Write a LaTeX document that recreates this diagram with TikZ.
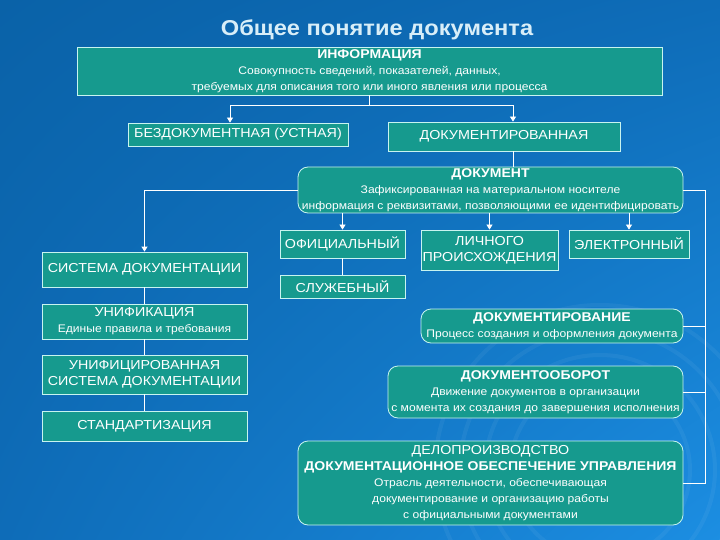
\documentclass[tikz,border=0pt]{standalone}
\usepackage{fontspec}
\setmainfont{Liberation Sans}[FakeStretch=1.1]
\usetikzlibrary{arrows.meta,shadings}

\definecolor{bgdark}{HTML}{0A62A8}
\definecolor{bgmid}{HTML}{0E6CB8}
\definecolor{bglight}{HTML}{1C8EE2}
\definecolor{boxfill}{HTML}{169A8E}
\definecolor{boxedge}{HTML}{C8F4F0}
\definecolor{titlecol}{HTML}{D8EEF8}

\newcommand\hdtxt{\fontsize{12.75}{16}\selectfont\bfseries}
\newcommand\smtxt{\fontsize{11}{14.5}\selectfont}

\tikzset{
  box/.style={draw=boxedge, fill=boxfill, text=white, line width=0.8pt,
    inner sep=0pt, align=center, font=\fontsize{13}{16}\selectfont},
  rbox/.style={box, rounded corners=10pt},
  link/.style={draw=white, line width=0.8pt},
  arr/.style={link, -{Triangle[width=6pt,length=5pt]}},
}

\begin{document}
\begin{tikzpicture}[x=1pt, y=-1pt]
	  % background
	  \shade[upper left=bgdark, upper right=bgmid, lower left=bgmid, lower right=bglight]
	    (0,0) rectangle (720,540);
	  \useasboundingbox (0,0) rectangle (720,540);
	  \foreach \r in {90,115,140,165}
	    \draw[white, opacity=0.05, line width=4pt] (600,470) circle (\r);

	  \node[font=\fontsize{21.5}{24}\selectfont\bfseries, text=titlecol] (title) at (377,30) {Общее понятие документа};

	  \node[box, minimum width=585, minimum height=48] (info) at (369.5,71)
	    {{\hdtxt ИНФОРМАЦИЯ}\\{\smtxt Совокупность сведений, показателей, данных,}\\{\smtxt требуемых для описания того или иного явления или процесса}};
	  \node[box, minimum width=220, minimum height=23] (bez) at (238,134.5) {БЕЗДОКУМЕНТНАЯ (УСТНАЯ)};
	  \node[box, minimum width=232, minimum height=29] (docd) at (504,136.5) {ДОКУМЕНТИРОВАННАЯ};

	  \node[rbox, minimum width=385, minimum height=46] (doc) at (490.5,190)
	    {{\hdtxt ДОКУМЕНТ}\\{\smtxt Зафиксированная на материальном носителе}\\{\smtxt информация с реквизитами, позволяющими ее идентифицировать}};

	  \node[box, minimum width=125, minimum height=28] (ofic) at (342.5,244) {ОФИЦИАЛЬНЫЙ};
	  \node[box, minimum width=137, minimum height=40] (lich) at (489.5,250) {ЛИЧНОГО\\ПРОИСХОЖДЕНИЯ};
	  \node[box, minimum width=120, minimum height=28] (elec) at (629,244) {ЭЛЕКТРОННЫЙ};
	  \node[box, minimum width=125, minimum height=23] (sluzh) at (342.5,286.5) {СЛУЖЕБНЫЙ};

	  \node[box, minimum width=205, minimum height=35] (sys) at (144.5,269.5) {СИСТЕМА ДОКУМЕНТАЦИИ};
	  \node[box, minimum width=205, minimum height=35] (unif) at (144.5,321.5)
	    {УНИФИКАЦИЯ\\{\smtxt Единые правила и требования}};
	  \node[box, minimum width=205, minimum height=39] (usd) at (144.5,374.5)
	    {УНИФИЦИРОВАННАЯ\\СИСТЕМА ДОКУМЕНТАЦИИ};
	  \node[box, minimum width=205, minimum height=30] (stand) at (144.5,426) {СТАНДАРТИЗАЦИЯ};

	  \node[rbox, minimum width=262, minimum height=34] (dokmt) at (552,326)
	    {{\hdtxt ДОКУМЕНТИРОВАНИЕ}\\{\smtxt Процесс создания и оформления документа}};
	  \node[rbox, minimum width=295, minimum height=52] (dokob) at (535.5,392)
	    {{\hdtxt ДОКУМЕНТООБОРОТ}\\{\smtxt Движение документов в организации}\\{\smtxt с момента их создания до завершения исполнения}};
	  \node[rbox, minimum width=385, minimum height=84] (delo) at (490.5,483)
	    {ДЕЛОПРОИЗВОДСТВО\\{\hdtxt ДОКУМЕНТАЦИОННОЕ ОБЕСПЕЧЕНИЕ УПРАВЛЕНИЯ}\\{\smtxt Отрасль деятельности, обеспечивающая}\\{\smtxt документирование и организацию работы}\\{\smtxt с официальными документами}};

	  % connectors
	  \draw[arr] (info.south) -- ++(0,10) -| ([xshift=-8pt]bez.north);
	  \draw[arr] (info.south) -- ++(0,10) -| ([xshift=9pt]docd.north);
	  \draw[link] ([xshift=9pt]docd.south) -- ([xshift=9pt]docd.south |- doc.north);

	  \draw[arr] (doc.west) -| (sys.north);
	  \draw[arr] (doc.south -| ofic.north) -- (ofic.north);
	  \draw[arr] (doc.south -| lich.north) -- (lich.north);
	  \draw[arr] (doc.south -| elec.north) -- (elec.north);
	  \draw[link] (ofic) -- (sluzh);

	  \draw[link] (sys) -- (unif);
	  \draw[link] (unif) -- (usd);
	  \draw[link] (usd) -- (stand);

	  \draw[link] (doc.east) -- ++(22,0) |- (delo.east);
	  \draw[link] (dokmt.east) -- ++(22,0);
	  \draw[link] (dokob.east) -- ++(22,0);
	\end{tikzpicture}
\end{document}
